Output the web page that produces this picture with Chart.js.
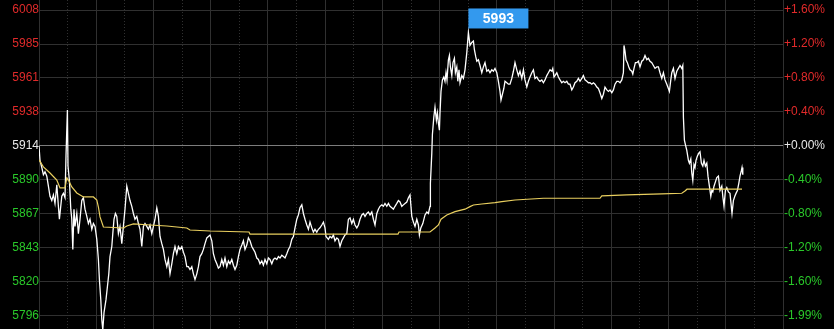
<!DOCTYPE html>
<html>
<head>
<meta charset="utf-8">
<script src="https://cdn.jsdelivr.net/npm/chart.js@4.4.1/dist/chart.umd.min.js"></script>
<style>
html,body{margin:0;padding:0;background:#000;}
canvas{display:block;}
</style>
</head>
<body>
<canvas id="trend" width="834" height="329"></canvas>
<script>
const basePrice = 5914;
const leftLabels = ['6008','5985','5961','5938','5914','5890','5867','5843','5820','5796'];
const rightLabels = ['+1.60%','+1.20%','+0.80%','+0.40%','+0.00%','-0.40%','-0.80%','-1.20%','-1.60%','-1.99%'];
const pctSteps = [1.6, 1.2, 0.8, 0.4, 0, -0.4, -0.8, -1.2, -1.6, -2.0];

// minutes into session
const times = [
  0,0.5,1.4,2.2,3,3.9,4.7,5.5,6.4,7.2,
  8,8.9,9.7,10.2,11.4,12.2,13,13.5,14.2,14.5,
  15.2,15.9,16.4,16.9,17.5,18,18.9,19.7,20.5,21.4,
  22.2,23,23.9,24.7,25.5,26.4,27.2,28,28.9,29.7,
  30.2,30.9,31.4,31.9,32.5,33.5,34.2,34.9,35.5,36.4,
  36.9,37.5,38.2,38.9,39.7,40.5,41.4,42.2,43,43.9,
  44.7,45.5,46.4,47.2,48,48.9,49.7,50.5,51.4,52.2,
  53,53.9,54.7,55.5,56.4,57.2,58,58.9,59.7,60.5,
  61.4,62.2,63,63.9,64.7,65.5,66.4,67.2,68,68.9,
  69.7,70.5,71.4,72.2,73,73.9,74.7,75.5,76.4,77.2,
  78,78.9,79.7,80.5,81.4,82.2,83,83.9,84.7,85.5,
  86.4,87.2,88,88.9,89.7,90.5,91.4,92.2,93,93.9,
  94.7,95.5,96.4,97.2,98,98.9,99.7,100.5,101.4,102.2,
  103,103.9,104.7,105.5,106.4,107.2,108,108.9,109.7,110.5,
  111.4,112.2,113,113.9,114.7,115.5,116.4,117.2,118,118.9,
  119.7,120.5,121.4,122.2,123,123.9,124.7,125.5,126.4,127.2,
  128,128.9,129.7,130.5,131.4,132.2,133,133.9,134.7,135.5,
  136.4,137.2,138,138.9,139.7,140.5,141.4,142.2,143,143.5,
  144.7,145.5,146.4,147.2,148,148.9,149.7,150.5,151.4,152.2,
  153,153.9,154.7,155.5,156.4,157.2,158,158.9,159.7,160.5,
  161.4,162.2,163,163.9,164.7,165.5,166.4,167.2,168,168.9,
  169.7,170.5,171.4,172.2,173,173.9,174.7,175.5,176.4,177.2,
  178,178.9,179.7,180.5,181.4,182.2,183,183.9,184.7,185.5,
  186.4,187.2,188,188.9,189.7,190.2,190.9,191.9,193,193.9,
  194.7,195.5,195.7,196.4,196.7,197.4,198,198.7,199.2,199.7,
  200.2,200.5,201,201.7,202.4,203,203.5,204,204.7,205.2,
  205.7,206.4,207,207.7,208.2,208.9,209.4,210,210.5,211.4,
  212.2,213,213.9,214.7,215.5,216.4,217.2,217.7,218.4,218.9,
  219.7,220.5,221.4,222.2,223,223.9,224.7,225.5,226.4,227.2,
  228,228.9,229.7,230.5,231,231.7,232.4,233,233.9,234.7,
  235.5,236.4,237.2,238,238.9,239.7,240.5,241.4,242.2,243,
  243.9,244.7,245.5,246.4,247.2,248,248.9,249.7,250.5,251.4,
  252.2,253,253.9,254.7,255.5,256.4,256.9,257.5,258,258.9,
  259.7,260.5,261.4,262.2,263,263.9,264.7,265.5,266.4,267.2,
  268,268.9,269.7,270.5,271.4,272.2,273,273.9,274.7,275.5,
  276.4,277.2,278,278.9,279.7,280.5,281.4,282.2,283,283.9,
  284.7,285.5,286.4,287.2,288,288.9,289.7,290.5,291.4,292.2,
  292.5,293,293.5,294.2,294.9,295.5,296.4,296.9,297.5,298.2,
  298.9,299.7,300.5,301.4,302.2,303,303.9,304.7,305.5,306.4,
  307.2,308,308.9,309.7,310.5,311.4,312.2,313,313.9,314.7,
  315.2,315.9,316.4,317.2,318,318.9,319.7,320.5,321.4,321.9,
  322.2,322.7,323.2,323.9,324.7,325.2,325.9,326.4,326.9,327.5,
  328,328.5,329.2,329.9,330.5,331.2,331.9,332.5,333.2,333.9,
  334.5,335.2,335.9,336.4,336.9,337.5,338.2,338.9,339.7,340.5,
  341.4,341.9,342.5,343.2,343.9,344.7,345.5,346,346.5,347.2,
  347.9,348.5,349.2,349.9,350.5,351.2,351.5,351.9
];
const prices = [
  5914,5904,5899,5894,5896,5893,5886,5879,5876,5880,
  5874,5887,5872,5863,5879,5881,5878,5907,5939,5900,
  5890,5870,5863,5842,5870,5858,5867,5853,5863,5876,
  5878,5870,5865,5860,5863,5856,5860,5858,5849,5835,
  5821,5807,5793,5786,5798,5807,5816,5825,5837,5844,
  5853,5863,5867,5865,5853,5858,5846,5858,5870,5886,
  5881,5876,5872,5867,5863,5865,5860,5856,5844,5858,
  5860,5858,5856,5859,5853,5858,5863,5871,5865,5851,
  5846,5842,5835,5830,5835,5825,5832,5839,5844,5839,
  5844,5842,5844,5840,5837,5830,5830,5828,5830,5825,
  5821,5825,5830,5837,5839,5842,5846,5850,5851,5852,
  5848,5839,5835,5832,5829,5830,5835,5831,5836,5830,
  5834,5832,5835,5831,5828,5831,5837,5842,5845,5848,
  5842,5845,5850,5848,5844,5842,5840,5836,5835,5832,
  5834,5831,5835,5832,5836,5835,5832,5835,5836,5835,
  5837,5836,5838,5837,5836,5839,5842,5844,5849,5851,
  5857,5863,5866,5871,5873,5867,5863,5859,5856,5861,
  5857,5854,5856,5854,5856,5857,5859,5861,5857,5851,
  5849,5851,5850,5852,5848,5850,5849,5844,5848,5850,
  5852,5853,5863,5864,5860,5863,5859,5857,5859,5863,
  5866,5867,5865,5867,5868,5866,5868,5863,5859,5867,
  5870,5872,5873,5872,5874,5872,5874,5872,5871,5870,
  5872,5874,5876,5875,5872,5873,5874,5875,5878,5880,
  5865,5861,5858,5863,5859,5852,5857,5860,5866,5868,
  5867,5872,5888,5909,5922,5934,5941,5932,5937,5930,
  5925,5937,5952,5960,5962,5959,5965,5960,5974,5977,
  5969,5963,5972,5975,5965,5969,5959,5967,5958,5963,
  5961,5967,5979,5993,5984,5986,5987,5981,5976,5973,
  5974,5970,5965,5969,5972,5966,5967,5965,5967,5966,
  5968,5965,5959,5952,5946,5950,5954,5959,5958,5957,
  5957,5961,5966,5972,5967,5963,5966,5961,5967,5960,
  5955,5959,5962,5965,5967,5961,5962,5960,5959,5960,
  5958,5960,5963,5965,5967,5966,5968,5962,5963,5965,
  5962,5960,5958,5959,5958,5959,5957,5957,5953,5955,
  5958,5959,5961,5959,5961,5963,5960,5959,5958,5958,
  5957,5958,5957,5955,5954,5951,5947,5950,5955,5953,
  5952,5953,5951,5953,5957,5959,5959,5958,5960,5965,
  5984,5980,5974,5972,5969,5967,5966,5964,5968,5972,
  5972,5973,5969,5973,5974,5977,5974,5975,5973,5972,
  5970,5968,5969,5969,5965,5961,5965,5960,5957,5954,
  5952,5960,5965,5968,5961,5966,5968,5970,5968,5970,
  5934,5918,5915,5911,5904,5902,5905,5895,5890,5901,
  5899,5904,5907,5909,5910,5902,5900,5904,5900,5902,
  5893,5886,5879,5883,5882,5886,5889,5892,5893,5883,
  5886,5879,5872,5883,5885,5882,5881,5874,5867,5876,
  5879,5881,5883,5888,5893,5897,5899,5894
];

// average price line
const avgTimes = [0,2.2,5.5,8.9,10.5,13,13.9,14.7,16.4,18.9,22.2,27.2,28.9,29.7,30.5,32.2,42.2,43.9,47.2,55.5,
  63.9,73.9,75.5,85.5,105,105.5,179.5,180,195.5,198,199.7,201,203.9,208,213,215.5,217.2,221.4,228,231.4,
  238,252.2,280.5,281.4,293.9,311.4,321.4,323,324,351.5];
const avgPrices = [5904.3,5899.4,5895.2,5890.3,5884.8,5884.8,5891.7,5890.3,5885.5,5881.3,5878.5,5878.5,5876.4,5871.5,5864.6,5857.6,5856.9,5858.3,5859.7,5859,
  5858.3,5856.9,5855.5,5854.8,5854.1,5852.7,5852.7,5854.1,5854.1,5856.9,5859,5863,5866,5868.3,5870,5871.8,5872.9,5873.6,5874.5,5875.2,
  5876.4,5877.6,5877.6,5879.2,5879.9,5880.6,5881.1,5882.7,5883.9,5883.9];

const sessionLength = 372;
const gridCount = 26;
const yMin = 5786.6, yMax = 6015.6;

const red = '#e02a2a', green = '#2ac82a', white = '#e8e8e8';
const tickValues = pctSteps.map(p => basePrice * (1 + p / 100)).reverse();

function labelColor(ctx) {
  const v = ctx.tick.value;
  if (Math.abs(v - basePrice) < 0.01) return white;
  return v > basePrice ? red : green;
}

const maxTag = {
  id: 'maxTag',
  afterDatasetsDraw(chart) {
    const meta = chart.getDatasetMeta(1);
    let hi = 0;
    prices.forEach((p, i) => { if (p > prices[hi]) hi = i; });
    const pt = meta.data[hi];
    const c = chart.ctx;
    const w = 60, h = 20;
    const left = pt.x, top = pt.y - 4 - h;
    c.save();
    c.fillStyle = '#3399ee';
    c.fillRect(left, top, w, h);
    c.fillStyle = '#ffffff';
    c.font = 'bold 14px "Liberation Sans", Arial, sans-serif';
    c.textAlign = 'center';
    c.textBaseline = 'middle';
    c.fillText(String(prices[hi]), left + w / 2, top + h / 2 + 1);
    c.restore();
  }
};

const ctx = document.getElementById('trend').getContext('2d');
let trend = new Chart(ctx, {
  type: 'line',
  data: {
    datasets: [{
      label: 'avg',
      data: avgTimes.map((t, i) => ({x: t, y: avgPrices[i]})),
      borderColor: '#e9cf5f',
      borderWidth: 1.2,
      pointRadius: 0,
      tension: 0
    }, {
      label: 'price',
      data: times.map((t, i) => ({x: t, y: prices[i]})),
      borderColor: '#ffffff',
      borderWidth: 1.3,
      pointRadius: 0,
      tension: 0
    }]
  },
  options: {
    responsive: false,
    animation: false,
    devicePixelRatio: 1,
    layout: {padding: 0},
    plugins: {legend: {display: false}, tooltip: {enabled: false}},
    scales: {
      x: {
        type: 'linear',
        min: 0,
        max: sessionLength,
        afterBuildTicks: s => { s.ticks = Array.from({length: gridCount + 1}, (_, i) => ({value: i * sessionLength / gridCount})); },
        afterFit: s => { s.height = 0; s.paddingLeft = 0; s.paddingRight = 0; },
        ticks: {display: false},
        grid: {color: '#303030', lineWidth: 1, drawTicks: false},
        border: {display: false, dash: c => (c.index % 2 ? [1, 2] : [])}
      },
      y: {
        position: 'left',
        min: yMin,
        max: yMax,
        afterBuildTicks: s => { s.ticks = tickValues.map(v => ({value: v})); },
        afterFit: s => { s.width = 39; s.paddingTop = 0; s.paddingBottom = 0; },
        ticks: {
          padding: 0,
          color: labelColor,
          font: {family: '"Liberation Sans", Arial, sans-serif', size: 12},
          callback: (v, i) => leftLabels[leftLabels.length - 1 - i]
        },
        grid: {
          color: c => (Math.abs(c.tick.value - basePrice) < 0.01 ? '#7d7d7d' : '#303030'),
          drawTicks: false
        },
        border: {display: false}
      },
      y2: {
        position: 'right',
        min: yMin,
        max: yMax,
        afterBuildTicks: s => { s.ticks = tickValues.map(v => ({value: v})); },
        afterFit: s => { s.width = 51; s.paddingTop = 0; s.paddingBottom = 0; },
        ticks: {
          padding: 1,
          color: labelColor,
          font: {family: '"Liberation Sans", Arial, sans-serif', size: 12},
          callback: (v, i) => rightLabels[rightLabels.length - 1 - i]
        },
        grid: {display: false, drawTicks: false},
        border: {display: false}
      }
    }
  },
  plugins: [maxTag]
});
</script>
</body>
</html>
